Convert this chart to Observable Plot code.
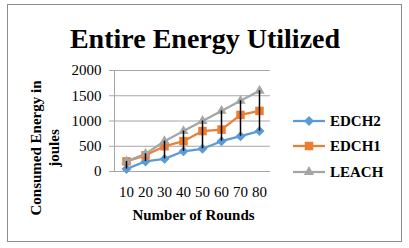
<!DOCTYPE html>
<html>
<head>
<meta charset="utf-8">
<script src="https://cdn.jsdelivr.net/npm/d3@7"></script>
<script src="https://cdn.jsdelivr.net/npm/@observablehq/plot@0.6"></script>
<style>
  html, body { margin: 0; padding: 0; background: #fff; }
  #wrap { position: relative; width: 409px; height: 248px; overflow: hidden; font-family: "Liberation Serif", "Times New Roman", Times, serif; }
  #border { position: absolute; left: 7px; top: 4px; width: 393px; height: 236px; border: 1px solid #8c8c8c; }
  #chart { position: absolute; left: 0; top: 0; }
  #legend { position: absolute; left: 0; top: 0; }
</style>
</head>
<body>
<div id="wrap">
  <div id="border"></div>
  <div id="chart"></div>
  <div id="legend"></div>
</div>
<script>
const rounds = [10, 20, 30, 40, 50, 60, 70, 80];
const edch2 = [50, 200, 250, 400, 450, 600, 700, 800];
const edch1 = [200, 320, 500, 600, 800, 830, 1120, 1200];
const leach = [200, 350, 600, 800, 1000, 1200, 1400, 1600];
const yTicks = [0, 500, 1000, 1500, 2000];
const seriesNames = ["EDCH2", "EDCH1", "LEACH"];
const seriesColors = ["#5B9BD5", "#ED7D31", "#A5A5A5"];
const seriesSymbols = ["diamond2", "square", "triangle"];
const titleText = "Entire Energy Utilized";
const xLabel = "Number of Rounds";
const yLabel = "Consumed Energy in\njoules";

const FONT = "'Liberation Serif', 'Times New Roman', Times, serif";

const seriesValues = [edch2, edch1, leach];
const rows = [];
seriesNames.forEach((name, s) => {
  rounds.forEach((r, i) => rows.push({round: r, value: seriesValues[s][i], series: name}));
});
const ranges = rounds.map((r, i) => {
  const vals = seriesValues.map(v => v[i]);
  return {round: r, lo: d3.min(vals), hi: d3.max(vals)};
});

const symbolR = {diamond2: 4.5, square: 4.8, triangle: 3.8};
const seriesMarks = seriesNames.flatMap((name, s) => {
  const data = rows.filter(d => d.series === name);
  return [
    Plot.line(data, {x: "round", y: "value", stroke: seriesColors[s], strokeWidth: 2.25}),
    Plot.dot(data, {x: "round", y: "value", fill: seriesColors[s], symbol: () => seriesSymbols[s], r: symbolR[seriesSymbols[s]], stroke: "none"})
  ];
});

const chart = Plot.plot({
  width: 409,
  height: 248,
  marginLeft: 114,
  marginRight: 139,
  marginTop: 70,
  marginBottom: 77,
  style: {fontFamily: FONT, background: "transparent", color: "#000"},
  x: {type: "point", domain: rounds, padding: 0.5},
  y: {domain: [0, 2000]},
  symbol: {type: "identity"},
  marks: [
    Plot.gridY(yTicks, {stroke: "#a6a6a6", strokeOpacity: 1, strokeWidth: 1}),
    Plot.frame({anchor: "left", stroke: "#a6a6a6"}),
    Plot.axisY(yTicks, {tickSize: 5, tickPadding: 8, fontSize: 15, stroke: "#a6a6a6", label: null, tickFormat: d => String(d)}),
    Plot.axisX(rounds, {tickSize: 0, tickPadding: 15, fontSize: 15, label: null, tickFormat: d => String(d)}),
    ...seriesMarks,
    Plot.ruleX(ranges, {x: "round", y1: "lo", y2: "hi", stroke: "#000", strokeWidth: 1.5}),
    Plot.text([titleText], {frameAnchor: "top", textAnchor: "middle", dx: 12.5, dy: -23, lineAnchor: "bottom", fontSize: 28, fontWeight: "bold", fill: "#000"}),
    Plot.text([xLabel], {frameAnchor: "bottom", textAnchor: "middle", dx: 1, dy: 48, lineAnchor: "bottom", fontSize: 15, fontWeight: "bold", fill: "#000"}),
    Plot.text([yLabel], {frameAnchor: "left", textAnchor: "middle", dx: -56, dy: 27, rotate: -90, lineAnchor: "bottom", lineHeight: 1.2, fontSize: 15, fontWeight: "bold", fill: "#000"})
  ]
});
document.getElementById("chart").appendChild(chart);

// Legend
const legendY = [121, 146, 172];
const leg = d3.create("svg").attr("width", 409).attr("height", 248)
  .style("font-family", FONT);
const symMap = {diamond2: d3.symbolDiamond2, square: d3.symbolSquare, triangle: d3.symbolTriangle};
seriesNames.forEach((name, s) => {
  const g = leg.append("g").attr("transform", `translate(0,${legendY[s]})`);
  g.append("line").attr("x1", 293).attr("x2", 325).attr("y1", 0).attr("y2", 0)
    .attr("stroke", seriesColors[s]).attr("stroke-width", 2.25);
  const r = symbolR[seriesSymbols[s]];
  g.append("path").attr("transform", "translate(309,0)")
    .attr("d", d3.symbol(symMap[seriesSymbols[s]], Math.PI * r * r)())
    .attr("fill", seriesColors[s]);
  g.append("text").attr("x", 330).attr("y", 0).attr("dy", "0.34em")
    .attr("font-size", 15).attr("font-weight", "bold").text(name);
});
document.getElementById("legend").appendChild(leg.node());
</script>
</body>
</html>
